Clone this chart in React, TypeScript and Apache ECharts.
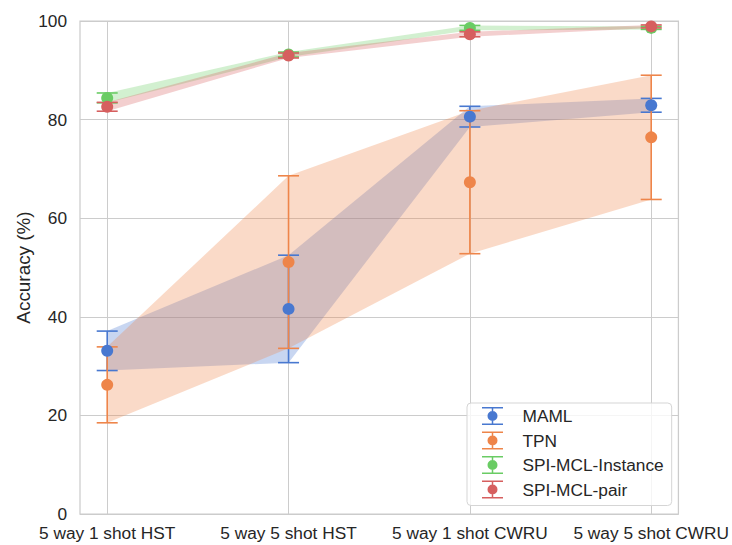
import React, { useEffect, useRef } from "react";
import * as echarts from "echarts";

const categories = ["5 way 1 shot HST", "5 way 5 shot HST", "5 way 1 shot CWRU", "5 way 5 shot CWRU"];
const seriesNames = ["MAML", "TPN", "SPI-MCL-Instance", "SPI-MCL-pair"];
const mamlMean = [33.1, 41.6, 80.6, 82.9];
const mamlErr = [4.0, 10.9, 2.1, 1.4];
const tpnMean = [26.2, 51.1, 67.3, 76.4];
const tpnErr = [7.7, 17.5, 14.5, 12.6];
const instMean = [84.4, 93.2, 98.6, 98.6];
const instErr = [1.0, 0.5, 0.5, 0.3];
const pairMean = [82.6, 93.0, 97.3, 98.9];
const pairErr = [0.9, 0.5, 0.5, 0.3];
const yTicks = [0, 20, 40, 60, 80, 100];

const colors = ["#4878d0", "#ee854a", "#6acc64", "#d65f5f"];
const FONT = "Liberation Sans, Arial, sans-serif";
const TEXT = "#262626";
const GRID = "#cccccc";
const TICK_FS = 17.3;
const LABEL_FS = 18.9;

const ICON =
  "path://M0,0 H21 V1.5 H0 Z M0,16.5 H21 V18 H0 Z M9.75,0 H11.25 V18 H9.75 Z M5.5,9 A5,5 0 1,1 15.5,9 A5,5 0 1,1 5.5,9 Z";

export default function App() {
  const ref = useRef<HTMLDivElement>(null);
  useEffect(() => {
    const chart = echarts.init(ref.current!, null, { renderer: "svg" });
    const means = [mamlMean, tpnMean, instMean, pairMean];
    const errs = [mamlErr, tpnErr, instErr, pairErr];

    const bandSeries = means.map((m, s) => ({
      type: "custom",
      name: seriesNames[s] + " band",
      silent: true,
      z: 1,
      data: m.map((v, i) => [i, v, v - errs[s][i], v + errs[s][i]]),
      encode: { x: 0, y: [1, 2, 3] },
      renderItem: (params: any, api: any) => {
        if (params.dataIndex !== 0) return null;
        const upper = m.map((v, i) => api.coord([i, v + errs[s][i]]));
        const lower = m.map((v, i) => api.coord([i, v - errs[s][i]])).reverse();
        return {
          type: "polygon",
          shape: { points: [...upper, ...lower] },
          style: { fill: colors[s], opacity: 0.3 },
        };
      },
    }));

    const errSeries = means.map((m, s) => ({
      type: "custom",
      name: seriesNames[s] + " err",
      silent: true,
      z: 2,
      data: m.map((v, i) => [i, v - errs[s][i], v + errs[s][i]]),
      encode: { x: 0, y: [1, 2] },
      renderItem: (params: any, api: any) => {
        const x = api.value(0);
        const lo = api.coord([x, api.value(1)]);
        const hi = api.coord([x, api.value(2)]);
        const st = { stroke: colors[s], lineWidth: 1.6 };
        return {
          type: "group",
          children: [
            { type: "line", shape: { x1: lo[0], y1: lo[1], x2: hi[0], y2: hi[1] }, style: st },
            { type: "line", shape: { x1: lo[0] - 10.5, y1: lo[1], x2: lo[0] + 10.5, y2: lo[1] }, style: st },
            { type: "line", shape: { x1: hi[0] - 10.5, y1: hi[1], x2: hi[0] + 10.5, y2: hi[1] }, style: st },
          ],
        };
      },
    }));

    const pointSeries = means.map((m, s) => ({
      type: "scatter",
      name: seriesNames[s],
      z: 3,
      symbol: "circle",
      symbolSize: 12,
      itemStyle: { color: colors[s], opacity: 1 },
      data: m.map((v, i) => [i, v]),
    }));

    chart.setOption({
      animation: false,
      grid: {
        left: 80,
        right: 52,
        top: 21,
        bottom: 31,
        show: true,
        borderColor: GRID,
        borderWidth: 1.25,
        backgroundColor: "transparent",
      },
      xAxis: {
        type: "value",
        min: -0.15,
        max: 3.15,
        axisLine: { show: false },
        axisTick: { show: false, customValues: [0, 1, 2, 3] },
        axisLabel: {
          customValues: [0, 1, 2, 3],
          formatter: (v: number) => categories[Math.round(v)],
          fontFamily: FONT,
          fontSize: TICK_FS,
          lineHeight: 17,
          color: TEXT,
          margin: 10,
        },
        splitLine: { show: true, lineStyle: { color: GRID, width: 1 } },
      },
      yAxis: {
        type: "value",
        min: yTicks[0],
        max: yTicks[yTicks.length - 1],
        interval: 20,
        name: "Accuracy (%)",
        nameLocation: "middle",
        nameGap: 47,
        nameMoveOverlap: false,
        nameTextStyle: { fontFamily: FONT, fontSize: LABEL_FS, color: TEXT },
        axisLine: { show: false },
        axisTick: { show: false },
        axisLabel: { fontFamily: FONT, fontSize: TICK_FS, lineHeight: 15, color: TEXT, margin: 13 },
        splitLine: { show: true, lineStyle: { color: GRID, width: 1 } },
      },
      legend: {
        orient: "vertical",
        left: 467,
        top: 403,
        itemWidth: 50,
        itemHeight: 18,
        itemGap: 6.5,
        padding: [4, 8, 7, 15],
        backgroundColor: "rgba(255,255,255,0.8)",
        borderColor: "#d5d5d5",
        borderWidth: 1,
        borderRadius: 4,
        selectedMode: false,
        textStyle: { fontFamily: FONT, fontSize: TICK_FS, lineHeight: 18, color: TEXT },
        data: seriesNames.map((n) => ({ name: n, icon: ICON })),
      },
      series: [...bandSeries, ...errSeries, ...pointSeries],
    });
    return () => chart.dispose();
  }, []);
  return (
    <div
      ref={ref}
      style={{ position: "fixed", left: 0, top: 0, width: 732, height: 545, background: "#fff" }}
    />
  );
}
